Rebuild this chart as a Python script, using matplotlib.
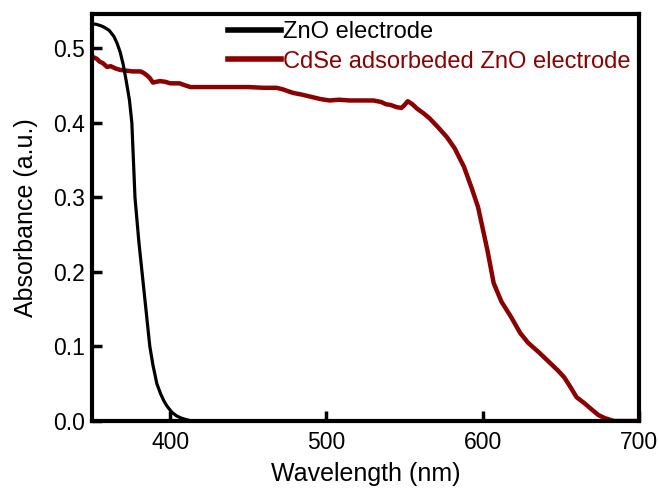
import matplotlib.pyplot as plt
import numpy as np

# ZnO electrode absorbance
zno_wl = [350, 353, 356, 358, 361, 364, 366, 368, 370, 372, 374, 375.5, 377.5, 380, 382, 385, 387, 389,
          391.5, 394, 396, 398, 401, 404, 407, 410, 414, 420, 500, 600, 700]
zno_abs = [0.533, 0.532, 0.530, 0.528, 0.524, 0.516, 0.507, 0.495, 0.478, 0.455, 0.43, 0.40, 0.30, 0.24,
           0.20, 0.14, 0.10, 0.075, 0.05, 0.036, 0.027, 0.020, 0.012, 0.007, 0.004, 0.002, 0.0, 0.0,
           0.0, 0.0, 0.0]

# CdSe adsorbed ZnO electrode absorbance
cdse_wl = [350, 351, 353, 355, 357, 359.6, 362, 365, 368, 372, 376, 381, 383, 385, 387, 389, 391, 393.6,
           397, 400, 406, 410, 413, 420, 430, 440, 450, 460, 468, 472, 476, 479, 484, 490, 496, 502,
           508, 515, 522, 530, 535, 538, 541, 545, 548, 550, 552, 555, 558, 562, 566, 571, 577, 582,
           588, 593, 597, 600, 603, 607, 612, 618, 624, 629, 636, 643, 648, 652, 656, 660, 665, 670,
           674, 678, 681, 684, 688, 700]
cdse_abs = [0.489, 0.488, 0.486, 0.482, 0.480, 0.475, 0.476, 0.473, 0.471, 0.470, 0.469, 0.469, 0.467,
            0.464, 0.460, 0.454, 0.455, 0.456, 0.455, 0.453, 0.453, 0.450, 0.448, 0.448, 0.448, 0.448,
            0.448, 0.447, 0.447, 0.445, 0.442, 0.440, 0.438, 0.435, 0.432, 0.430, 0.431, 0.430, 0.430,
            0.430, 0.428, 0.425, 0.424, 0.421, 0.420, 0.424, 0.429, 0.425, 0.419, 0.413, 0.406, 0.395,
            0.381, 0.366, 0.341, 0.312, 0.287, 0.258, 0.229, 0.185, 0.160, 0.140, 0.118, 0.105, 0.092,
            0.078, 0.068, 0.059, 0.046, 0.032, 0.024, 0.015, 0.008, 0.004, 0.002, 0.0, 0.0, 0.0]

plt.rcParams['font.family'] = ['Liberation Sans', 'DejaVu Sans']

fig = plt.figure(figsize=(6.59, 4.93), dpi=100)
ax = fig.add_axes([0.1396, 0.146, 0.8301, 0.8256])

red = '#8b0000'
ax.plot(zno_wl, zno_abs, color='black', lw=2.3, label='ZnO electrode', zorder=3)
ax.plot(cdse_wl, cdse_abs, color=red, lw=3.2, label='CdSe adsorbeded ZnO electrode', zorder=2)

ax.set_xlim(350, 700)
ax.set_ylim(0, 0.546)
ax.set_xticks([400, 500, 600, 700])
ax.set_yticks([0.0, 0.1, 0.2, 0.3, 0.4, 0.5])
ax.set_yticklabels(['0.0', '0.1', '0.2', '0.3', '0.4', '0.5'])
ax.tick_params(direction='in', length=7, width=2.5, labelsize=16.5, pad=7)
ax.tick_params(axis='y', pad=5)
for s in ax.spines.values():
    s.set_linewidth(3)

ax.set_xlabel('Wavelength (nm)', fontsize=18, labelpad=6)
ax.set_ylabel('Absorbance (a.u.)', fontsize=18, labelpad=11)

leg = ax.legend(loc='upper left', bbox_to_anchor=(228 / 659, (493 - 21) / 493),
                bbox_transform=fig.transFigure, frameon=False, fontsize=17,
                handlelength=2.25, handletextpad=0.1, labelspacing=0.32,
                borderpad=0, borderaxespad=0, labelcolor='linecolor')
for h in leg.get_lines():
    h.set_linewidth(4)

fig.savefig('out.png', dpi=100)
